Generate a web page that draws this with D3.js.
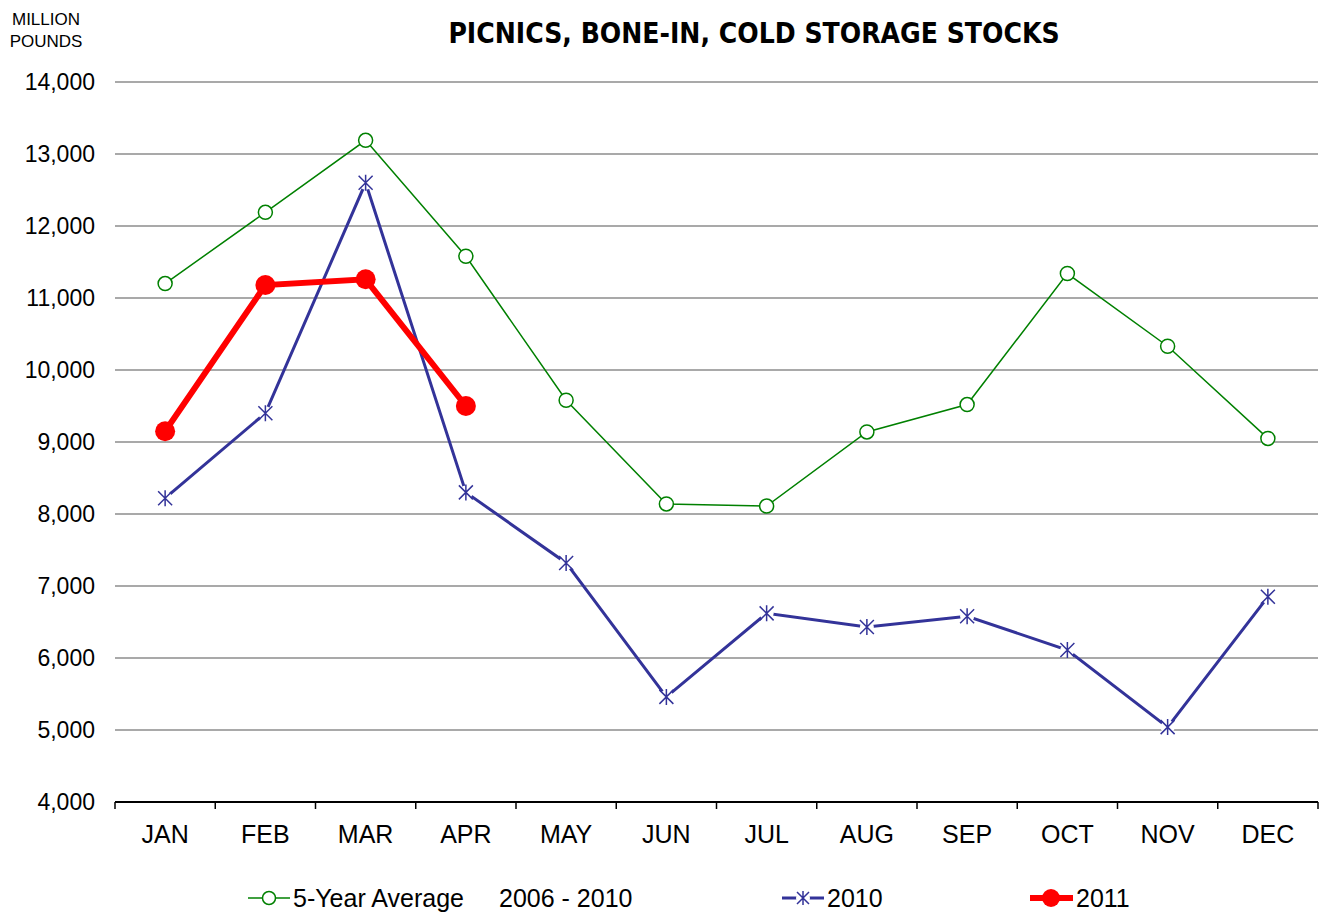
<!DOCTYPE html>
<html>
<head>
<meta charset="utf-8">
<script src="https://cdn.jsdelivr.net/npm/d3@7"></script>
<style>
  body { margin: 0; background: #fff; }
  svg { display: block; font-family: "Liberation Sans", Arial, sans-serif; }
</style>
</head>
<body>
<svg id="chart" width="1323" height="912"></svg>
<script>
var months = ["JAN", "FEB", "MAR", "APR", "MAY", "JUN", "JUL", "AUG", "SEP", "OCT", "NOV", "DEC"];
var avg5 = [11200, 12190, 13190, 11580, 9580, 8140, 8110, 9140, 9520, 11340, 10330, 9050];
var y2010 = [8220, 9400, 12600, 8300, 7320, 5460, 6620, 6430, 6580, 6110, 5040, 6850];
var y2011 = [9150, 11180, 11260, 9500];
var yTicks = [4000, 5000, 6000, 7000, 8000, 9000, 10000, 11000, 12000, 13000, 14000];

var svg = d3.select("#chart");
var plotLeft = 115, plotRight = 1318, plotTop = 82, plotBottom = 802;

var x = d3.scaleBand().domain(months).range([plotLeft, plotRight]);
var y = d3.scaleLinear().domain([4000, 14000]).range([plotBottom, plotTop]);
var cx = function (d, i) { return x(months[i]) + x.bandwidth() / 2; };

// gridlines
svg.append("g").selectAll("line")
  .data(yTicks.slice(1))
  .enter().append("line")
  .attr("x1", plotLeft).attr("x2", plotRight)
  .attr("y1", function (d) { return y(d); })
  .attr("y2", function (d) { return y(d); })
  .attr("stroke", "#8c8c8c").attr("stroke-width", 1.5);

// y labels
svg.append("g").selectAll("text")
  .data(yTicks)
  .enter().append("text")
  .attr("x", 95).attr("y", function (d) { return y(d) + 8; })
  .attr("text-anchor", "end")
  .attr("font-size", 23)
  .attr("fill", "#000")
  .text(d3.format(","));

// x axis
svg.append("line")
  .attr("x1", plotLeft).attr("x2", plotRight).attr("y1", plotBottom).attr("y2", plotBottom)
  .attr("stroke", "#000").attr("stroke-width", 2);
var bounds = months.map(function (m) { return x(m); }).concat([plotRight]);
svg.append("g").selectAll("line")
  .data(bounds)
  .enter().append("line")
  .attr("x1", function (d) { return d; }).attr("x2", function (d) { return d; })
  .attr("y1", plotBottom).attr("y2", plotBottom + 7)
  .attr("stroke", "#000").attr("stroke-width", 1.5);
svg.append("g").selectAll("text")
  .data(months)
  .enter().append("text")
  .attr("x", function (d) { return x(d) + x.bandwidth() / 2; })
  .attr("y", 843)
  .attr("text-anchor", "middle")
  .attr("font-size", 25)
  .text(function (d) { return d; });

// title and unit
svg.append("text").attr("x", 754).attr("y", 43).attr("text-anchor", "middle")
  .attr("font-size", 28).attr("font-weight", "bold")
  .attr("font-family", "'DejaVu Sans Condensed', sans-serif")
  .text("PICNICS, BONE-IN, COLD STORAGE STOCKS");
svg.append("text").attr("x", 46).attr("y", 25).attr("text-anchor", "middle")
  .attr("font-size", 17).text("MILLION");
svg.append("text").attr("x", 46).attr("y", 47).attr("text-anchor", "middle")
  .attr("font-size", 17).text("POUNDS");

var line = d3.line().x(cx).y(function (d) { return y(d); });

// 5-year average
svg.append("path").datum(avg5).attr("d", line)
  .attr("fill", "none").attr("stroke", "#008000").attr("stroke-width", 1.5);
svg.append("g").selectAll("circle").data(avg5).enter().append("circle")
  .attr("cx", cx).attr("cy", function (d) { return y(d); }).attr("r", 7)
  .attr("fill", "#fff").attr("stroke", "#008000").attr("stroke-width", 1.5);

// 2010
function star(g, px, py, s, color) {
  g.append("path")
    .attr("d", "M" + (px - s) + "," + (py - s) + "L" + (px + s) + "," + (py + s) +
      "M" + (px + s) + "," + (py - s) + "L" + (px - s) + "," + (py + s) +
      "M" + px + "," + (py - s - 1) + "L" + px + "," + (py + s + 1))
    .attr("stroke", color).attr("stroke-width", 1.5).attr("fill", "none");
}
svg.append("path").datum(y2010).attr("d", line)
  .attr("fill", "none").attr("stroke", "#333399").attr("stroke-width", 3);
var g10 = svg.append("g");
y2010.forEach(function (d, i) {
  g10.append("circle").attr("cx", cx(d, i)).attr("cy", y(d)).attr("r", 7).attr("fill", "#fff");
  star(g10, cx(d, i), y(d), 7, "#333399");
});

// 2011
svg.append("path").datum(y2011).attr("d", line)
  .attr("fill", "none").attr("stroke", "#ff0000").attr("stroke-width", 6);
svg.append("g").selectAll("circle").data(y2011).enter().append("circle")
  .attr("cx", cx).attr("cy", function (d) { return y(d); }).attr("r", 10)
  .attr("fill", "#ff0000");

// legend
var ly = 898;
var lg = svg.append("g").attr("font-size", 25);
lg.append("line").attr("x1", 248).attr("x2", 290).attr("y1", ly).attr("y2", ly)
  .attr("stroke", "#008000").attr("stroke-width", 1.5);
lg.append("circle").attr("cx", 269).attr("cy", ly).attr("r", 6.5)
  .attr("fill", "#fff").attr("stroke", "#008000").attr("stroke-width", 1.5);
lg.append("text").attr("x", 293).attr("y", ly + 9).text("5-Year Average");
lg.append("text").attr("x", 499).attr("y", ly + 9).text("2006 - 2010");

lg.append("line").attr("x1", 782).attr("x2", 824).attr("y1", ly).attr("y2", ly)
  .attr("stroke", "#333399").attr("stroke-width", 3);
lg.append("circle").attr("cx", 803).attr("cy", ly).attr("r", 7).attr("fill", "#fff");
star(lg, 803, ly, 6, "#333399");
lg.append("text").attr("x", 827).attr("y", ly + 9).text("2010");

lg.append("line").attr("x1", 1030).attr("x2", 1073).attr("y1", ly).attr("y2", ly)
  .attr("stroke", "#ff0000").attr("stroke-width", 6);
lg.append("circle").attr("cx", 1051).attr("cy", ly).attr("r", 9).attr("fill", "#ff0000");
lg.append("text").attr("x", 1076).attr("y", ly + 9).text("2011");
</script>
</body>
</html>
